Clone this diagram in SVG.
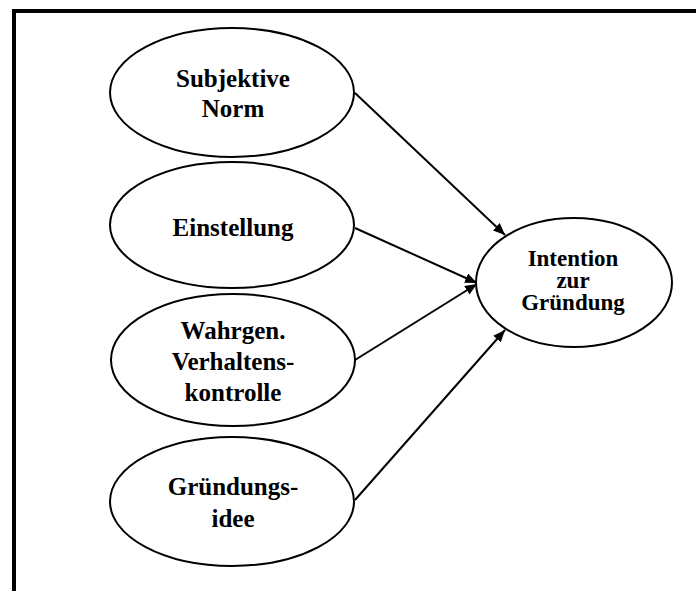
<svg xmlns="http://www.w3.org/2000/svg" width="696" height="591" viewBox="0 0 696 591">
<style>
.node ellipse{fill:#fff;stroke:#000;stroke-width:2}
.lbl{font-family:"Liberation Serif","Times New Roman",serif;font-weight:bold;font-size:25px;fill:#000;text-anchor:middle}
.lbl2{font-size:23px}
.conn line{stroke:#000;stroke-width:2;marker-end:url(#ah)}
</style>
<defs>
<marker id="ah" viewBox="0 0 12 10" refX="12" refY="5" markerWidth="12" markerHeight="10" markerUnits="userSpaceOnUse" orient="auto">
<path d="M0,0 L12,5 L0,10 Z" fill="#000"/>
</marker>
</defs>
<rect x="0" y="0" width="696" height="591" fill="#fff"/>
<path d="M14,591 V11 H696" fill="none" stroke="#000" stroke-width="4"/>
<g class="conn">
<line x1="355" y1="93" x2="505" y2="235"/>
<line x1="355" y1="228" x2="477" y2="283"/>
<line x1="355" y1="360" x2="477" y2="284"/>
<line x1="355" y1="500" x2="505" y2="330"/>
</g>
<g id="subjektive-norm" class="node">
<ellipse cx="232" cy="92.5" rx="122" ry="64.5"/>
<text class="lbl" x="233" y="87">Subjektive</text>
<text class="lbl" x="233" y="117">Norm</text>
</g>
<g id="einstellung" class="node">
<ellipse cx="232" cy="225" rx="122" ry="63"/>
<text class="lbl" x="233" y="236">Einstellung</text>
</g>
<g id="verhaltenskontrolle" class="node">
<ellipse cx="233" cy="360" rx="122" ry="66"/>
<text class="lbl" x="233" y="339">Wahrgen.</text>
<text class="lbl" x="233" y="370">Verhaltens-</text>
<text class="lbl" x="233" y="401">kontrolle</text>
</g>
<g id="gruendungsidee" class="node">
<ellipse cx="232" cy="501.5" rx="122" ry="64.5"/>
<text class="lbl" x="233" y="495">Gründungs-</text>
<text class="lbl" x="233" y="527">idee</text>
</g>
<g id="intention" class="node">
<ellipse cx="574" cy="282.5" rx="98" ry="64.5"/>
<text class="lbl lbl2" x="573" y="266">Intention</text>
<text class="lbl lbl2" x="573" y="288">zur</text>
<text class="lbl lbl2" x="573" y="310">Gründung</text>
</g>
</svg>
